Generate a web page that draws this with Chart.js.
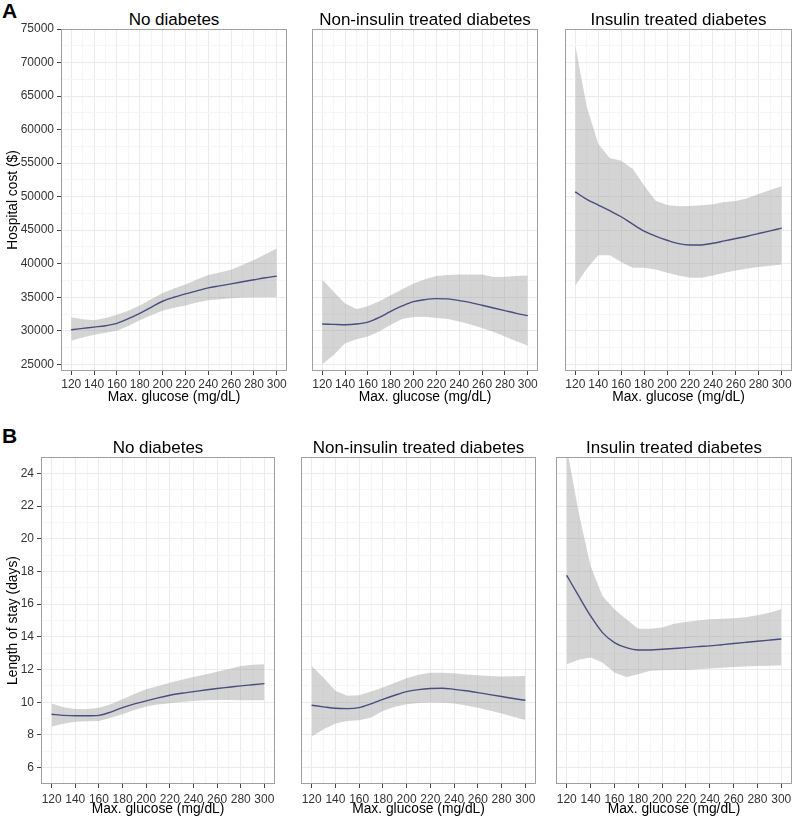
<!DOCTYPE html>
<html><head><meta charset="utf-8">
<script src="https://cdn.jsdelivr.net/npm/chart.js@4.4.1/dist/chart.umd.min.js"></script>
<style>
body{margin:0;background:#fff;width:793px;height:819px;position:relative;overflow:hidden;font-family:'Liberation Sans',Arial,sans-serif;}
canvas{position:absolute;left:0;top:0;}
.lbl{position:absolute;font-weight:bold;font-size:21px;line-height:21px;color:#000;}
.pt{position:absolute;font-size:17px;line-height:17px;color:#000;text-align:center;white-space:nowrap;width:300px;}
</style></head><body>
<div class="lbl" style="left:2px;top:0px">A</div>
<div class="lbl" style="left:2px;top:425px">B</div>
<script>
// ---- data ----
const glucose = [120,130,140,150,160,170,180,190,200,210,220,230,240,250,260,270,280,290,300];
const glucoseTicks = [120,140,160,180,200,220,240,260,280,300];
const costTicks = [25000,30000,35000,40000,45000,50000,55000,60000,65000,70000,75000];
const losTicks = [6,8,10,12,14,16,18,20,22,24];
const panelTitles = ['No diabetes','Non-insulin treated diabetes','Insulin treated diabetes'];

// A: hospital cost ($)
const costNoFit  = [30150,30350,30550,30750,31100,31800,32600,33500,34400,35000,35500,35950,36400,36700,37000,37300,37600,37900,38150];
const costNoHi   = [32000,31700,31550,31900,32400,33000,33750,34700,35650,36300,36900,37650,38300,38700,39100,39800,40550,41400,42250];
const costNoLo   = [28500,29000,29400,29700,30000,30700,31550,32300,33000,33450,33750,34200,34550,34700,34850,34950,35000,35000,35000];

const costNonFit = [31000,30950,30900,31000,31300,32000,32900,33700,34350,34650,34800,34750,34500,34200,33800,33400,33000,32600,32250];
const costNonHi  = [37650,35800,34050,33250,33650,34400,35300,36200,37050,37700,38150,38300,38400,38400,38400,38000,38050,38150,38250];
const costNonLo  = [25000,26400,28150,28750,29150,29900,30900,31750,32050,32100,31900,31750,31400,30950,30400,29800,29150,28450,27800];

const costInsFit = [50700,49600,48750,47900,47000,45900,44850,44100,43500,43000,42800,42800,43050,43400,43750,44100,44500,44900,45300];
const costInsHi  = [72500,63400,57900,55750,55350,54150,51650,49400,48750,48550,48600,48700,48850,49200,49350,49750,50400,51000,51550];
const costInsLo  = [36750,39250,41250,41250,40250,39400,39400,39150,38650,38250,37900,37900,38250,38650,39000,39300,39500,39700,39900];

// B: length of stay (days)
const losNoFit  = [9.27,9.2,9.17,9.17,9.2,9.4,9.67,9.9,10.08,10.27,10.43,10.55,10.65,10.75,10.84,10.92,11.0,11.07,11.14];
const losNoHi   = [9.92,9.7,9.59,9.59,9.67,9.88,10.18,10.5,10.79,11.0,11.2,11.38,11.55,11.7,11.86,12.04,12.22,12.3,12.33];
const losNoLo   = [8.51,8.68,8.8,8.84,8.86,9.05,9.27,9.52,9.74,9.86,9.94,10.02,10.08,10.12,10.14,10.14,10.12,10.12,10.12];

const losNonFit = [9.82,9.72,9.63,9.61,9.67,9.9,10.18,10.43,10.65,10.77,10.84,10.86,10.79,10.7,10.59,10.47,10.35,10.23,10.12];
const losNonHi  = [12.22,11.5,10.7,10.39,10.43,10.65,10.9,11.2,11.47,11.68,11.81,11.81,11.77,11.7,11.65,11.6,11.57,11.59,11.61];
const losNonLo  = [7.9,8.35,8.7,8.86,8.9,9.06,9.47,9.72,9.88,9.95,9.98,9.97,9.92,9.8,9.67,9.5,9.31,9.12,8.92];

const losInsFit = [17.76,16.5,15.28,14.26,13.65,13.34,13.2,13.2,13.24,13.29,13.34,13.4,13.45,13.52,13.59,13.66,13.73,13.8,13.87];
const losInsHi  = [25.6,21.6,18.33,16.5,15.69,15.08,14.5,14.5,14.57,14.8,14.91,15.0,15.08,15.1,15.14,15.2,15.32,15.48,15.69];
const losInsLo  = [12.33,12.6,12.73,12.43,11.82,11.55,11.71,11.92,11.96,11.97,11.98,12.02,12.06,12.11,12.16,12.19,12.22,12.24,12.26];

// ---- styling / layout ----
const FONT = "'Liberation Sans', Arial, sans-serif";
const LINE = '#14146c', BAND = 'rgba(153,153,153,0.42)';
const MAJ = '#ebebeb', MIN = '#f6f6f6', TICK = '#444', BORDER = '#a0a0a0';

const panels = [
  {L:61, R:287, T:29, B:371, xH:38, xPad:2, yW:61, yMin:24000, yMax:75000, yTicks:costTicks, yTitle:'Hospital cost ($)', title:panelTitles[0], fit:costNoFit, hi:costNoHi, lo:costNoLo, titleTop:10.6},
  {L:312, R:538, T:29, B:371, xH:38, xPad:2, yW:0, yMin:24000, yMax:75000, yTicks:costTicks, yTitle:null, title:panelTitles[1], fit:costNonFit, hi:costNonHi, lo:costNonLo, titleTop:10.6},
  {L:565, R:792, T:29, B:371, xH:38, xPad:2, yW:0, yMin:24000, yMax:75000, yTicks:costTicks, yTitle:null, title:panelTitles[2], fit:costInsFit, hi:costInsHi, lo:costInsLo, titleTop:10.6},
  {L:41, R:275, T:457, B:784, xH:37, xPad:4, yW:41, yMin:5, yMax:25, yTicks:losTicks, yTitle:'Length of stay (days)', title:panelTitles[0], fit:losNoFit, hi:losNoHi, lo:losNoLo, titleTop:439},
  {L:301, R:536, T:457, B:784, xH:37, xPad:4, yW:0, yMin:5, yMax:25, yTicks:losTicks, yTitle:null, title:panelTitles[1], fit:losNonFit, hi:losNonHi, lo:losNonLo, titleTop:439},
  {L:556, R:792, T:457, B:784, xH:37, xPad:4, yW:0, yMin:5, yMax:25, yTicks:losTicks, yTitle:null, title:panelTitles[2], fit:losInsFit, hi:losInsHi, lo:losInsLo, titleTop:439}
];

const mids = a => a.slice(1).map((v,i)=>(v+a[i])/2);
const pts = (xs, ys) => xs.map((x,i)=>({x:x, y:ys[i]}));
const isMaj = (arr, c) => c.tick && arr.some(v => Math.abs(v - c.tick.value) < 1e-9);

const borderPlugin = {
  id:'panelBorder',
  afterDraw(chart){
    const a = chart.chartArea, ctx = chart.ctx;
    ctx.save();
    ctx.strokeStyle = BORDER; ctx.lineWidth = 1;
    ctx.strokeRect(Math.round(a.left)+0.5, Math.round(a.top)+0.5, Math.round(a.right)-Math.round(a.left)-1, Math.round(a.bottom)-Math.round(a.top)-1);
    ctx.restore();
  }
};

panels.forEach(p => {
  const t = document.createElement('div');
  t.className = 'pt'; t.textContent = p.title;
  t.style.left = ((p.L + p.R)/2 - 150) + 'px';
  t.style.top = p.titleTop + 'px';
  document.body.appendChild(t);

  const cv = document.createElement('canvas');
  cv.width = 793; cv.height = 819;
  document.body.appendChild(cv);

  const xAll = [...glucoseTicks, ...mids(glucoseTicks)].sort((a,b)=>a-b);
  const yAll = [...p.yTicks, ...mids(p.yTicks)].sort((a,b)=>a-b);
  const showY = p.yW > 0;

  new Chart(cv, {
    type:'line',
    data:{datasets:[
      {data:pts(glucose,p.hi), borderWidth:0, pointRadius:0, fill:'+1', backgroundColor:BAND, tension:0},
      {data:pts(glucose,p.lo), borderWidth:0, pointRadius:0, fill:false, tension:0},
      {data:pts(glucose,p.fit), borderColor:LINE, borderWidth:1.4, pointRadius:0, fill:false, cubicInterpolationMode:'monotone'}
    ]},
    options:{
      responsive:false, animation:false, devicePixelRatio:1, events:[],
      layout:{padding:{left:p.L - p.yW, right:793 - p.R, top:p.T, bottom:819 - p.B - p.xH}},
      plugins:{legend:{display:false}, tooltip:{enabled:false}, title:{display:false}},
      scales:{
        x:{
          type:'linear', min:111, max:309,
          afterBuildTicks: s => { s.ticks = xAll.map(v=>({value:v})); },
          afterFit: s => { s.height = p.xH; s.paddingLeft = 0; s.paddingRight = 0; },
          border:{display:false},
          grid:{color: c => isMaj(glucoseTicks,c) ? MAJ : MIN,
                tickColor: c => isMaj(glucoseTicks,c) ? TICK : 'rgba(0,0,0,0)',
                tickLength:4, lineWidth:1, drawTicks:true},
          ticks:{autoSkip:false, maxRotation:0, minRotation:0, padding:p.xPad, color:'#333',
                 font:{family:FONT, size:12},
                 callback: v => glucoseTicks.includes(v) ? String(v) : ''},
          title:{display:true, text:'Max. glucose (mg/dL)', color:'#000', font:{family:FONT, size:13.8}, padding:{top:0, bottom:4}}
        },
        y:{
          type:'linear', min:p.yMin, max:p.yMax,
          afterBuildTicks: s => { s.ticks = yAll.map(v=>({value:v})); },
          afterFit: s => { s.width = p.yW; s.paddingTop = 0; s.paddingBottom = 0; },
          border:{display:false},
          grid:{color: c => isMaj(p.yTicks,c) ? MAJ : MIN,
                tickColor: c => isMaj(p.yTicks,c) ? TICK : 'rgba(0,0,0,0)',
                tickLength:4, lineWidth:1, drawTicks:showY},
          ticks:{display:showY, autoSkip:false, padding:3, color:'#333',
                 font:{family:FONT, size:12},
                 callback: v => p.yTicks.includes(v) ? String(v) : ''},
          title:{display:!!p.yTitle, text:p.yTitle || '', color:'#000', font:{family:FONT, size:13.8}, padding:{top:5, bottom:0}}
        }
      }
    },
    plugins:[borderPlugin]
  });
});
</script>
</body></html>
